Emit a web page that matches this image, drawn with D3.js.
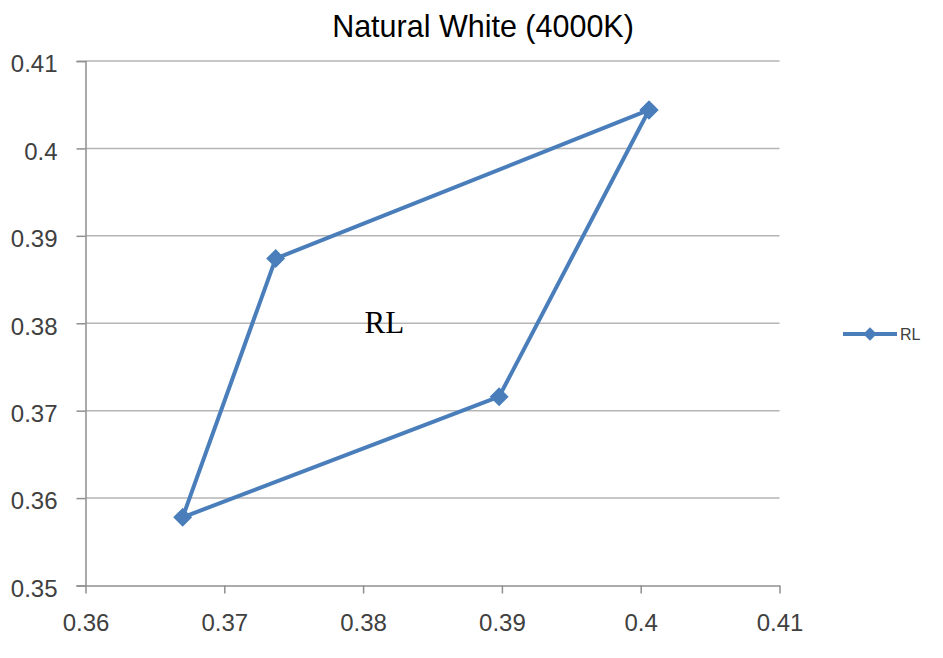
<!DOCTYPE html>
<html>
<head>
<meta charset="utf-8">
<script src="https://cdn.jsdelivr.net/npm/d3@7"></script>
<style>
html,body{margin:0;padding:0;background:#fff;}
svg{display:block;}
</style>
</head>
<body>
<svg id="chart" width="943" height="658"></svg>
<script>
// Data
const title = "Natural White (4000K)";
const seriesName = "RL";
const xValues = [0.4006, 0.3737, 0.3670, 0.3898, 0.4006];
const yValues = [0.4044, 0.3874, 0.3578, 0.3716, 0.4044];
const xTicks = [0.36, 0.37, 0.38, 0.39, 0.40, 0.41];
const yTicks = [0.35, 0.36, 0.37, 0.38, 0.39, 0.40, 0.41];
const xTickLabels = ["0.36", "0.37", "0.38", "0.39", "0.4", "0.41"];
const yTickLabels = ["0.35", "0.36", "0.37", "0.38", "0.39", "0.4", "0.41"];
const annotationText = "RL";
const annotationX = 0.3801;
const annotationY = 0.3789;

const points = xValues.map((v, i) => ({x: v, y: yValues[i]}));

const svg = d3.select("#chart");
const plotLeft = 85.5, plotRight = 779.5, plotTop = 61, plotBottom = 585.5;
const xScale = d3.scaleLinear().domain([0.36, 0.41]).range([plotLeft, plotRight]);
const yScale = d3.scaleLinear().domain([0.35, 0.41]).range([plotBottom, plotTop]);

const blue = "#4a7ebb";
const tickFont = "'Liberation Sans', Arial, sans-serif";

// Title
svg.append("text")
  .attr("x", 483).attr("y", 37)
  .attr("text-anchor", "middle")
  .attr("font-family", tickFont)
  .attr("font-size", 30.5)
  .attr("fill", "#000")
  .text(title);

// Gridlines
svg.append("g").selectAll("line")
  .data(yTicks.filter(d => d > 0.35))
  .join("line")
  .attr("x1", plotLeft).attr("x2", plotRight)
  .attr("y1", d => yScale(d)).attr("y2", d => yScale(d))
  .attr("stroke", "#b5b5b5").attr("stroke-width", 1.5);

// Y axis
const yAxis = d3.axisLeft(yScale).tickValues(yTicks)
  .tickFormat((d, i) => yTickLabels[i]).tickSize(9).tickPadding(19);
const gy = svg.append("g").attr("transform", `translate(${plotLeft},0)`).call(yAxis);
gy.select(".domain").attr("stroke", "#8f8f8f").attr("stroke-width", 1.5);
gy.selectAll(".tick line").attr("stroke", "#8f8f8f").attr("stroke-width", 1.5);
gy.selectAll(".tick text")
  .attr("font-family", tickFont).attr("font-size", 24).attr("fill", "#404040")
  .attr("dy", "0.45em");

// X axis
const xAxis = d3.axisBottom(xScale).tickValues(xTicks)
  .tickFormat((d, i) => xTickLabels[i]).tickSize(8).tickSizeOuter(0).tickPadding(22);
const gx = svg.append("g").attr("transform", `translate(0,${plotBottom})`).call(xAxis);
gx.select(".domain").attr("stroke", "#8f8f8f").attr("stroke-width", 1.5);
gx.selectAll(".tick line").attr("stroke", "#8f8f8f").attr("stroke-width", 1.5);
gx.selectAll(".tick text")
  .attr("font-family", tickFont).attr("font-size", 24).attr("fill", "#404040")
  .attr("dy", "0.71em").attr("y", 28);

// Series line
const line = d3.line().x(d => xScale(d.x)).y(d => yScale(d.y));
svg.append("path")
  .datum(points)
  .attr("d", line)
  .attr("fill", "none")
  .attr("stroke", blue)
  .attr("stroke-width", 4)
  .attr("stroke-linejoin", "round");

// Markers (diamonds)
const diamond = d3.symbol().type(d3.symbolSquare).size(180);
svg.append("g").selectAll("path")
  .data(points)
  .join("path")
  .attr("d", diamond)
  .attr("transform", d => `translate(${xScale(d.x)},${yScale(d.y)}) rotate(45)`)
  .attr("fill", blue);

// Annotation
svg.append("text")
  .attr("x", xScale(annotationX)).attr("y", yScale(annotationY))
  .attr("font-family", "'Liberation Serif', 'Times New Roman', serif")
  .attr("font-size", 31)
  .attr("fill", "#000")
  .text(annotationText);

// Legend
const lg = svg.append("g").attr("transform", "translate(843,334)");
lg.append("line").attr("x1", 0).attr("x2", 54).attr("y1", 0).attr("y2", 0)
  .attr("stroke", blue).attr("stroke-width", 4);
lg.append("path").attr("d", d3.symbol().type(d3.symbolSquare).size(90)())
  .attr("transform", "translate(27,0) rotate(45)").attr("fill", blue);
lg.append("text").attr("x", 57).attr("y", 0).attr("dy", "0.36em")
  .attr("font-family", tickFont).attr("font-size", 16).attr("fill", "#404040")
  .text(seriesName);
</script>
</body>
</html>
